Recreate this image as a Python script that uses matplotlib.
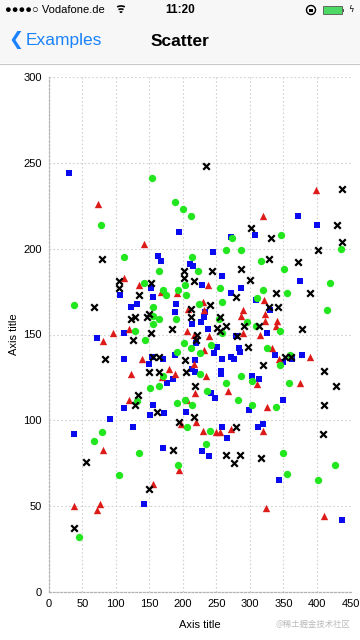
import numpy as np
import matplotlib
matplotlib.use("Agg")
from matplotlib import pyplot as plt
from matplotlib.patches import Rectangle, Arc

plt.rcParams['font.family'] = ['Liberation Sans', 'DejaVu Sans']

# scatter data (x, y)
blue_x = [31, 195, 163, 168, 152, 106, 155, 132, 122, 190, 189, 112, 72,
          372, 400, 308, 272, 245, 210, 215, 259, 374, 228, 286, 272, 309, 330, 233, 232, 213, 227, 238, 326, 280, 219, 251, 284,
          112, 154, 171, 150, 189, 185, 176, 113, 156, 172, 151, 91, 125, 37, 170,
          246, 259, 272, 277, 285, 338, 363, 350, 378, 218, 218, 213, 257, 257, 303, 313, 242, 248, 349, 299, 205, 258, 266, 312, 319, 229, 239, 343,
          142, 437]
blue_y = [244, 210, 196, 193, 177, 173, 172, 168, 166, 168, 163, 151, 148,
          219, 214, 208, 207, 198, 191, 190, 184, 181, 179, 177, 174, 170, 164, 163, 160, 156, 157, 153, 151, 149, 145, 143, 142,
          136, 137, 136, 133, 138, 124, 122, 107, 109, 104, 103, 101, 96, 92, 84,
          139, 136, 137, 136, 140, 138, 136, 134, 138, 135, 128, 130, 129, 127, 126, 124, 116, 113, 112, 106, 105, 96, 90, 96, 98, 82, 79, 65,
          51, 42]

red_x = [73, 398, 142, 113, 135, 168, 191, 120, 96, 81,
         320, 237, 321, 230, 207, 231, 290, 286, 322, 340, 323, 339, 206, 289, 315, 216, 239, 333,
         139, 122, 179, 189, 169, 119, 81, 195, 156,
         232, 344, 389, 216, 235, 311, 374, 218, 267, 206, 325, 220, 197, 230, 250, 255, 272, 320,
         38, 72, 76, 324, 411]
red_y = [226, 234, 203, 183, 179, 175, 174, 153, 151, 146,
         219, 179, 170, 169, 165, 164, 164, 161, 162, 158, 158, 155, 152, 151, 150, 150, 149, 142,
         136, 127, 130, 127, 125, 112, 83, 71, 63,
         141, 136, 137, 133, 126, 121, 122, 116, 117, 112, 108, 99, 98, 94, 93, 93, 95, 94,
         50, 48, 51, 49, 44]

green_x = [154, 188, 200, 78, 113, 164, 142, 170, 175, 37, 156, 193, 156, 165, 156, 190, 128, 144,
           212, 436, 274, 346, 265, 287, 213, 317, 223, 351, 420, 203, 255, 320, 356, 205, 259, 310, 224, 415, 254, 296, 309, 345, 259, 202, 242, 212, 326,
           191, 171, 151, 164, 132, 191, 80, 68, 134, 193, 105,
           226, 360, 345, 226, 286, 303, 358, 264, 236, 283, 203, 213, 303, 339, 206, 240, 234, 350, 427, 355, 401,
           45]
green_y = [241, 227, 223, 214, 195, 187, 180, 176, 173, 167, 166, 176, 161, 159, 156, 159, 152, 147,
           219, 200, 206, 208, 199, 199, 195, 193, 187, 188, 180, 179, 177, 176, 174, 173, 169, 171, 168, 164, 159, 157, 155, 152, 151, 145, 144, 142, 142,
           140, 126, 119, 120, 111, 110, 93, 88, 81, 74, 68,
           139, 138, 132, 127, 126, 123, 122, 122, 117, 112, 112, 109, 109, 108, 96, 94, 86, 81, 74, 69, 65,
           32]

black_x = [235, 438, 80, 105, 105, 153, 135, 67, 146, 150, 129, 123, 184, 153, 125,
           430, 437, 302, 332, 401, 328, 372, 202, 243, 286, 202, 216, 300, 339, 390, 280, 241, 329, 342, 212, 212, 256, 264, 291, 314, 377, 251, 255, 221, 281, 219, 297,
           84, 156, 165, 150, 165, 133, 128, 162, 195, 185, 56, 149,
           353, 362, 203, 204, 320, 410, 428, 218, 410, 217, 280, 409, 265, 285, 276, 316,
           37]
black_y = [248, 235, 194, 181, 177, 180, 173, 166, 160, 162, 160, 159, 153, 151, 147,
           214, 204, 212, 206, 199, 194, 192, 187, 187, 188, 183, 181, 182, 174, 174, 172, 167, 166, 166, 165, 160, 160, 155, 155, 155, 153, 154, 152, 150, 149, 147, 143,
           136, 137, 137, 128, 128, 115, 109, 105, 99, 83, 76, 60,
           137, 137, 135, 128, 132, 129, 120, 120, 109, 102, 96, 92, 80, 80, 75, 78,
           37]

x_ticks = [0, 50, 100, 150, 200, 250, 300, 350, 400, 450]
y_ticks = [0, 50, 100, 150, 200, 250, 300]

W, H = 360, 640
fig = plt.figure(figsize=(W / 100, H / 100), dpi=100)
fig.patch.set_facecolor("white")

# iOS header (status bar + navigation bar)
fig.patches.append(Rectangle((0, 1 - 63 / H), 1, 63 / H, transform=fig.transFigure,
                             facecolor="#F7F7F7", edgecolor="none", zorder=0))
fig.lines.append(plt.Line2D([0, 1], [1 - 63.5 / H, 1 - 63.5 / H], transform=fig.transFigure,
                            color="#C8C8C8", lw=0.8))
fig.text(5 / W, 1 - 10 / H, "●●●●○ Vodafone.de", fontsize=8, va="center", ha="left")
# wifi arcs
for r in [3, 6, 9]:
    fig.patches.append(Arc((121 / W, 1 - 15 / H), 2 * r / W, 2 * r / H, theta1=50, theta2=130,
                           transform=fig.transFigure, color="black", lw=1.2))
fig.text(180 / W, 1 - 10 / H, "11:20", fontsize=8.5, fontweight="bold", va="center", ha="center")
fig.patches.append(Rectangle((323 / W, 1 - 13.5 / H), 19 / W, 7 / H, transform=fig.transFigure,
                             facecolor="#4CD964", edgecolor="#555555", lw=0.6))
fig.patches.append(Rectangle((342.5 / W, 1 - 11.5 / H), 1.5 / W, 3 / H, transform=fig.transFigure,
                             facecolor="#555555", edgecolor="none"))
fig.text(348 / W, 1 - 10 / H, "ϟ", fontsize=6, va="center", ha="left", family=["DejaVu Sans"])
fig.patches.append(Arc((311 / W, 1 - 10 / H), 9 / W, 9 / H, transform=fig.transFigure,
                       color="black", lw=1.0))
fig.patches.append(Rectangle((309 / W, 1 - 12 / H), 4 / W, 3 / H, transform=fig.transFigure,
                             facecolor="black", edgecolor="none"))
fig.text(8 / W, 1 - 40 / H, "❮", fontsize=13, color="#1A82FB", va="center", ha="left",
         family=["DejaVu Sans"])
fig.text(26 / W, 1 - 41 / H, "Examples", fontsize=12.5, color="#1A82FB", va="center", ha="left")
fig.text(180 / W, 1 - 41 / H, "Scatter", fontsize=12.5, fontweight="bold", va="center", ha="center")

# chart
ax = fig.add_axes([48.7 / W, 1 - 592 / H, (350.5 - 48.7) / W, (592 - 77) / H])
ax.scatter(blue_x, blue_y, marker="s", s=24, color="#0A0AF0", linewidths=0, zorder=3)
ax.scatter(red_x, red_y, marker="^", s=28, color="#DD1C1A", linewidths=0, zorder=3)
ax.scatter(green_x, green_y, marker="o", s=28, color="#22E61E", linewidths=0, zorder=3)
ax.scatter(black_x, black_y, marker="x", s=22, color="black", linewidths=1.6, zorder=4)

ax.set_xlim(0, 450)
ax.set_ylim(0, 300)
ax.set_xticks(x_ticks)
ax.set_yticks(y_ticks)
ax.tick_params(length=0, labelsize=8, pad=5)
ax.grid(True, color="#D2D2D2", linestyle=(0, (1.5, 2)), lw=0.8)
for s in ["top", "right"]:
    ax.spines[s].set_visible(False)
for s in ["left", "bottom"]:
    ax.spines[s].set_color("#B4B4B4")
    ax.spines[s].set_linewidth(0.9)
    ax.spines[s].set_linestyle((0, (1.5, 1.5)))
ax.set_xlabel("Axis title", fontsize=8, labelpad=8)
ax.set_ylabel("Axis title", fontsize=8, labelpad=3)

fig.text(350 / W, 1 - 624 / H, "@稀土掘金技术社区", fontsize=6, color="#BBBBBB", ha="right", va="center",
         family=["Noto Sans CJK SC", "DejaVu Sans"])

fig.savefig("out.png", dpi=100)
